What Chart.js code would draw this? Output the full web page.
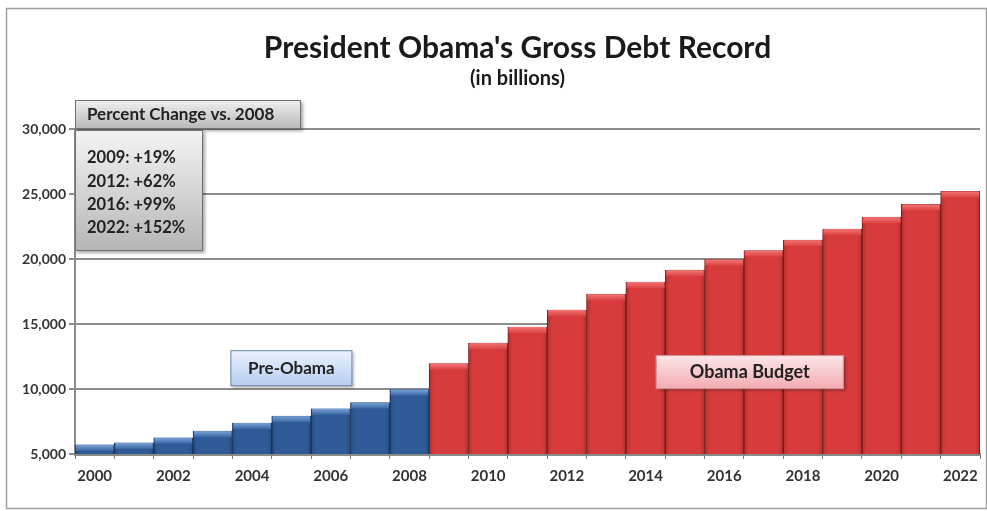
<!DOCTYPE html>
<html>
<head>
<meta charset="utf-8">
<script src="https://cdn.jsdelivr.net/npm/chart.js@4"></script>
<style>
html,body{margin:0;padding:0;background:#fff;}
#wrap{width:987px;height:511px;position:relative;}
</style>
</head>
<body>
<div id="wrap"><canvas id="c" width="987" height="511"></canvas></div>
<script>
const years = ['2000','2001','2002','2003','2004','2005','2006','2007','2008','2009','2010','2011',
  '2012','2013','2014','2015','2016','2017','2018','2019','2020','2021','2022'];
const preObama = [5700, 5850, 6250, 6760, 7380, 7910, 8480, 8960, 9950];
const obamaBudget = [11950, 13530, 14770, 16080, 17300, 18230, 19150, 19950, 20650, 21450, 22300, 23220, 24200, 25200];
const yTicks = [5000, 10000, 15000, 20000, 25000, 30000];
const titleText = "President Obama's Gross Debt Record";
const subtitleText = "(in billions)";
const pctHeader = "Percent Change vs. 2008";
const pctLines = ["2009: +19%", "2012: +62%", "2016: +99%", "2022: +152%"];
const labelPre = "Pre-Obama";
const labelObama = "Obama Budget";

const preData = years.map((y, i) => i < preObama.length ? preObama[i] : null);
const obamaData = years.map((y, i) => i >= preObama.length ? obamaBudget[i - preObama.length] : null);

const FONT = "Lato, 'Open Sans', 'DejaVu Sans', sans-serif";

function boxGrad(ctx, x, y, w, h, c1, c2) {
  const g = ctx.createLinearGradient(0, y, 0, y + h);
  g.addColorStop(0, c1); g.addColorStop(1, c2);
  return g;
}
function drawBox(ctx, x, y, w, h, c1, c2, border) {
  ctx.save();
  ctx.shadowColor = 'rgba(0,0,0,0.35)';
  ctx.shadowOffsetX = 2; ctx.shadowOffsetY = 2; ctx.shadowBlur = 3;
  ctx.fillStyle = boxGrad(ctx, x, y, w, h, c1, c2);
  ctx.fillRect(x, y, w, h);
  ctx.restore();
  ctx.save();
  ctx.strokeStyle = border; ctx.lineWidth = 1;
  ctx.strokeRect(x + 0.5, y + 0.5, w - 1, h - 1);
  ctx.restore();
}

const decor = {
  id: 'decor',
  beforeDraw(chart) {
    const ctx = chart.ctx;
    ctx.save();
    ctx.fillStyle = '#fff';
    ctx.fillRect(0, 0, chart.width, chart.height);
    ctx.strokeStyle = '#a0a0a0';
    ctx.lineWidth = 1.5;
    ctx.strokeRect(6.5, 8.5, 980, 500);
    const ca = chart.chartArea;
    const cx = (ca.left + ca.right) / 2 - 10;
    ctx.fillStyle = '#1a1a1a';
    ctx.textAlign = 'center';
    ctx.textBaseline = 'middle';
    ctx.font = "bold 30px " + FONT;
    ctx.fillText(titleText, cx, 48);
    ctx.font = "bold 20px " + FONT;
    ctx.fillText(subtitleText, cx, 79);
    ctx.restore();
  },
  afterDatasetsDraw(chart) {
    const ctx = chart.ctx;
    const ca = chart.chartArea;
    chart.data.datasets.forEach((ds, di) => {
      const meta = chart.getDatasetMeta(di);
      meta.data.forEach((bar, i) => {
        if (ds.data[i] == null) return;
        const w = bar.width;
        const x0 = bar.x - w / 2;
        const bottom = Math.min(bar.base, ca.bottom);
        ctx.save();
        ctx.beginPath();
        ctx.rect(ca.left, ca.top, ca.right - ca.left, ca.bottom - ca.top);
        ctx.clip();
        const sg = ctx.createLinearGradient(x0, 0, x0 + w, 0);
        sg.addColorStop(0, 'rgba(0,0,0,0.18)');
        sg.addColorStop(0.12, 'rgba(0,0,0,0)');
        sg.addColorStop(0.88, 'rgba(0,0,0,0)');
        sg.addColorStop(1, 'rgba(0,0,0,0.18)');
        ctx.fillStyle = sg;
        ctx.fillRect(x0, bar.y + 6, w, bottom - bar.y - 6);
        const g = ctx.createLinearGradient(0, bar.y, 0, bar.y + 7);
        g.addColorStop(0, ds.capTop);
        g.addColorStop(1, ds.capBottom);
        ctx.fillStyle = g;
        ctx.fillRect(x0 + 1, bar.y, w - 2, 6);
        ctx.restore();
      });
    });
    const xs = chart.scales.x, ys = chart.scales.y;
    ctx.save();
    let bx = xs.getPixelForValue(5) - 61, by = ys.getPixelForValue(11600) - 18;
    drawBox(ctx, bx, by, 122, 36, '#eaf2ff', '#b7cdf0', '#6d84a8');
    ctx.fillStyle = '#222';
    ctx.font = "bold 17px " + FONT;
    ctx.textAlign = 'center'; ctx.textBaseline = 'middle';
    ctx.fillText(labelPre, bx + 61, by + 18);
    bx = xs.getPixelForValue(16.65) - 94; by = ys.getPixelForValue(11300) - 17;
    drawBox(ctx, bx, by, 188, 34, '#fde8ea', '#f3aab0', '#c98c90');
    ctx.fillStyle = '#222';
    ctx.font = "bold 18px " + FONT;
    ctx.fillText(labelObama, bx + 94, by + 17);
    drawBox(ctx, ca.left, ca.top - 29, 226, 29, '#efefef', '#b8b8b8', '#707070');
    ctx.fillStyle = '#222';
    ctx.font = "bold 17px " + FONT;
    ctx.textAlign = 'left';
    ctx.fillText(pctHeader, ca.left + 12, ca.top - 14);
    drawBox(ctx, ca.left, ca.top + 1, 128, 121, '#f4f4f4', '#b5b5b5', '#707070');
    ctx.fillStyle = '#222';
    ctx.font = "bold 16.5px " + FONT;
    pctLines.forEach((t, i) => ctx.fillText(t, ca.left + 12, ca.top + 29 + i * 23.3));
    ctx.restore();
  }
};

new Chart(document.getElementById('c'), {
  type: 'bar',
  data: {
    labels: years,
    datasets: [
      { label: labelPre, data: preData, backgroundColor: '#2f5c98', borderColor: '#1b3a66',
        borderWidth: 1, capTop: '#7aa2d8', capBottom: '#2f5c98' },
      { label: labelObama, data: obamaData, backgroundColor: '#d83b3b', borderColor: '#8a1e1e',
        borderWidth: 1, capTop: '#f27676', capBottom: '#d83b3b' }
    ]
  },
  options: {
    responsive: false,
    animation: false,
    devicePixelRatio: 1,
    layout: { padding: { left: 8, right: 7, top: 129, bottom: 20 } },
    plugins: { legend: { display: false }, tooltip: { enabled: false }, title: { display: false } },
    datasets: { bar: { barPercentage: 1, categoryPercentage: 1 } },
    scales: {
      x: {
        stacked: true,
        afterFit(s) { s.height = 37; },
        grid: { display: true, drawOnChartArea: false, drawTicks: true, tickLength: 5, color: '#777', offset: true },
        border: { display: true, color: '#8a8a8a', width: 3 },
        ticks: {
          autoSkip: false, maxRotation: 0, color: '#333', padding: 8,
          font: { family: FONT, size: 15, weight: 'bold' },
          callback(v, i) { return i % 2 === 0 ? years[i] : ''; }
        }
      },
      y: {
        stacked: true,
        min: 5000, max: 30000,
        afterFit(s) { s.width = 67; },
        afterBuildTicks(s) { s.ticks = yTicks.map(v => ({ value: v })); },
        grid: { color: '#8c8c8c', lineWidth: 2, drawTicks: true, tickLength: 6 },
        border: { display: true, color: '#8a8a8a', width: 2 },
        ticks: {
          color: '#333', padding: 3,
          font: { family: FONT, size: 14, weight: 'bold' },
          callback(v) { return v.toLocaleString('en-US'); }
        }
      }
    }
  },
  plugins: [decor]
});
</script>
</body>
</html>
